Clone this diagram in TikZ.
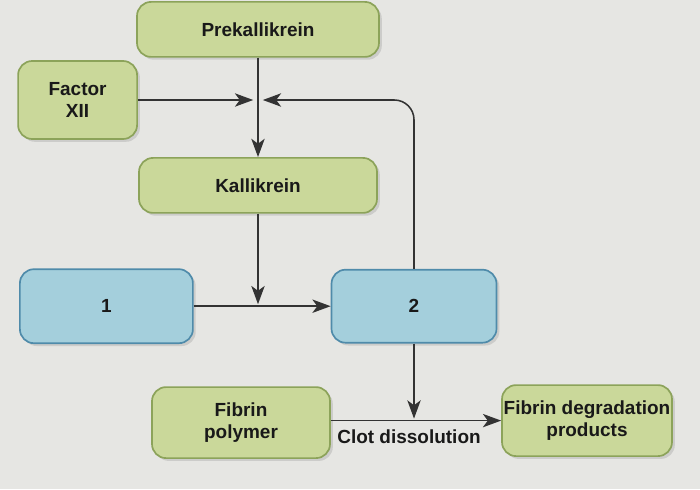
\documentclass[tikz,border=0pt]{standalone}
\usepackage{fontspec}
\setmainfont{Liberation Sans}
\usetikzlibrary{arrows.meta,shadows}

\begin{document}
\begin{tikzpicture}[
    every node/.style={font=\fontsize{13.5}{16}\selectfont\bfseries, text=black!90},
    greenBox/.style={draw=borderGreen, fill=fillGreen, line width=1.2pt, rounded corners=10pt,
        align=center, drop shadow={opacity=0.25, shadow xshift=2pt, shadow yshift=-2pt}},
    blueBox/.style={draw=borderBlue, fill=fillBlue, line width=1.2pt, rounded corners=10pt,
        align=center, drop shadow={opacity=0.25, shadow xshift=2pt, shadow yshift=-2pt}},
    arrowLine/.style={draw=black!80, line width=1.1pt, -{Stealth[length=13pt,width=9.5pt,inset=3.5pt]}}
]
    \definecolor{fillGreen}{HTML}{CAD89A}
    \definecolor{borderGreen}{HTML}{8CA35A}
    \definecolor{fillBlue}{HTML}{A4CFDC}
    \definecolor{borderBlue}{HTML}{4F8BAA}
    \definecolor{backColour}{HTML}{E6E6E3}

    % Background
    \fill[backColour] (0,0) rectangle (17.5,12.225);
    \useasboundingbox (0,0) rectangle (17.5,12.225);

    % Boxes
    \node[greenBox, minimum width=6.05cm, minimum height=1.375cm] (prek) at (6.45,11.49) {Prekallikrein};
    \node[greenBox, minimum width=2.975cm, minimum height=1.95cm] (fxii) at (1.94,9.725) {Factor\\XII};
    \node[greenBox, minimum width=5.95cm, minimum height=1.375cm] (kall) at (6.45,7.59) {Kallikrein};
    \node[blueBox, minimum width=4.325cm, minimum height=1.85cm] (one) at (2.66,4.57) {1};
    \node[blueBox, minimum width=4.125cm, minimum height=1.825cm] (two) at (10.35,4.57) {2};
    \node[greenBox, minimum width=4.45cm, minimum height=1.775cm] (fibrin) at (6.025,1.66) {Fibrin\\polymer};
    \node[greenBox, minimum width=4.25cm, minimum height=1.775cm, inner xsep=1pt] (fdp) at (14.675,1.71) {Fibrin degradation\\products};

    % Junction points
    \coordinate (junc) at (prek.south |- fxii.east);
    \coordinate (midOne) at (kall.south |- one.east);
    \coordinate (midTwo) at (two.south |- fdp.west);

    % Activation of prekallikrein
    \draw[arrowLine] (prek.south) -- (kall.north);
    \draw[arrowLine] (fxii.east) -- ([xshift=-0.12cm]junc);
    \draw[arrowLine, rounded corners=14pt] (two.north) |- ([xshift=0.12cm]junc);

    % Kallikrein acts on 1
    \draw[arrowLine] (one.east) -- (two.west);
    \draw[arrowLine] (kall.south) -- ([yshift=0.05cm]midOne);

    % Clot dissolution
    \draw[arrowLine] (fibrin.east |- fdp.west) -- (fdp.west);
    \draw[arrowLine] (two.south) -- ([yshift=0.05cm]midTwo);
    \node (clot) at (10.225,1.3) {Clot dissolution};

\end{tikzpicture}
\end{document}
